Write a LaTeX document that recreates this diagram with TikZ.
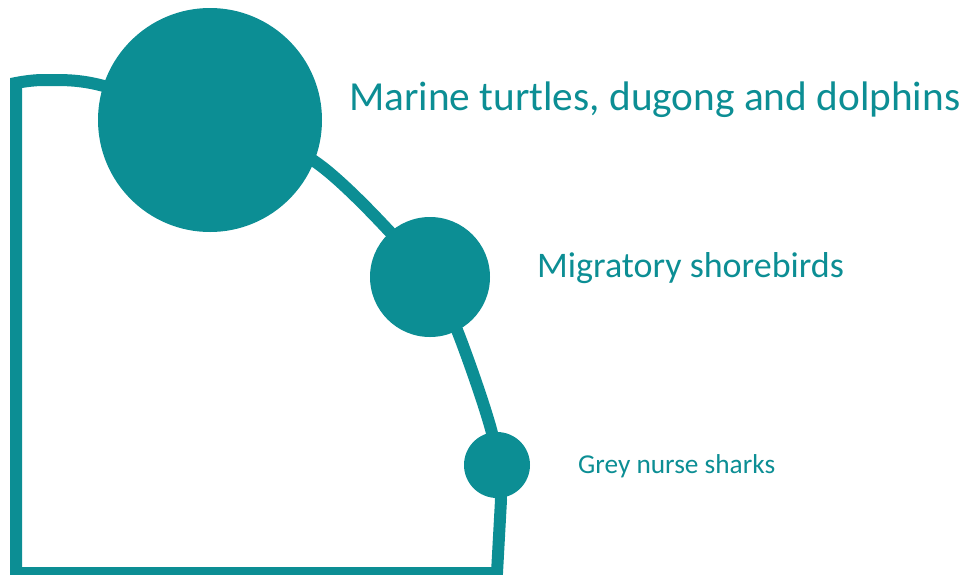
\documentclass[tikz,border=0pt]{standalone}
\usepackage{fontspec}
\setmainfont{Carlito}
\definecolor{teal1}{RGB}{12,142,148}
\begin{document}
\begin{tikzpicture}[x=1pt,y=-1pt,
  dot/.style={circle,fill=teal1,inner sep=0pt,minimum size=#1},
  lbl/.style={anchor=base west,inner sep=0pt,text=teal1}]
\useasboundingbox (0,0) rectangle (967,574);
\draw[teal1,line width=12pt,line join=miter]
  (16,573) -- (16,83) -- plot[smooth,tension=0.55] coordinates
  {(16,83) (45,80) (100,85) (210,121) (317,163) (430,277) (457,330) (492,433) (501,500)}
  -- (497,573) -- cycle;
\node[dot=224pt] (big) at (210,120) {};
\node[dot=120pt] (mid) at (430,277) {};
\node[dot=66pt] (small) at (497,465) {};
\node[lbl,font=\fontsize{41.3}{49}\selectfont] (t1) at (349,110) {Marine turtles, dugong and dolphins};
\node[lbl,font=\fontsize{36}{43}\selectfont] (t2) at (537,277) {Migratory shorebirds};
\node[lbl,font=\fontsize{27.3}{33}\selectfont] (t3) at (578,473) {Grey nurse sharks};
\end{tikzpicture}
\end{document}
